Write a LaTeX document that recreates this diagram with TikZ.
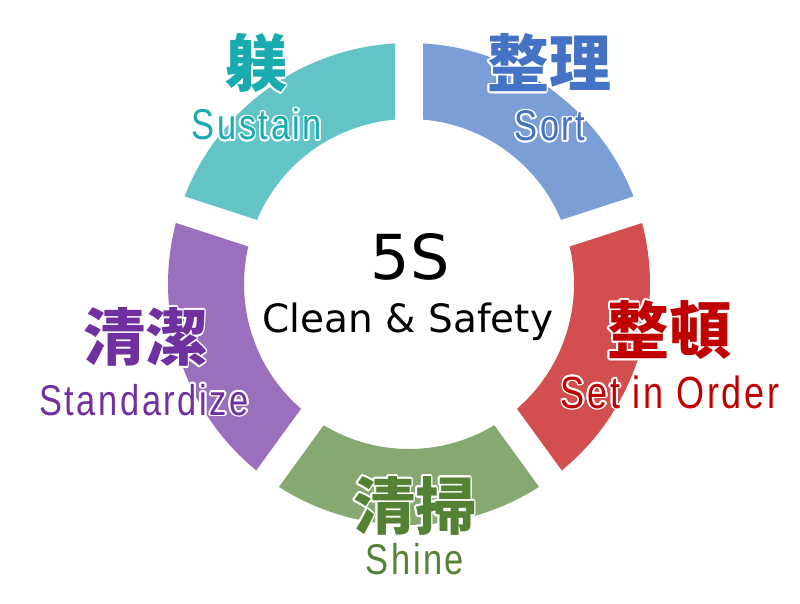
\documentclass[tikz,border=0pt]{standalone}
\usepackage{fontspec}
\setmainfont{DejaVu Sans}
\newfontfamily\cjk{Noto Sans CJK JP}
\newfontfamily\labf{Liberation Sans}[FakeStretch=0.8,LetterSpace=6]
\newfontfamily\cenf{DejaVu Sans}
\usetikzlibrary{calc}
\definecolor{tealseg}{HTML}{63C4C8}
\definecolor{tealtxt}{HTML}{1AABB0}
\definecolor{blueseg}{HTML}{7B9ED7}
\definecolor{bluetxt}{HTML}{4472C4}
\definecolor{redseg}{HTML}{D34E4F}
\definecolor{redtxt}{HTML}{C00000}
\definecolor{greenseg}{HTML}{86A971}
\definecolor{greentxt}{HTML}{548235}
\definecolor{purpseg}{HTML}{9A6FBE}
\definecolor{purptxt}{HTML}{7030A0}
\tikzset{
  kanji/.style={font=\cjk\bfseries\fontsize{62}{70}\selectfont, inner sep=0pt, anchor=center},
  latin/.style={font=\labf\fontsize{#1}{48}\selectfont, inner sep=0pt, anchor=base},
  latin/.default=43,
  centre/.style={font=\cenf\fontsize{#1}{#1}\selectfont, inner sep=0pt, anchor=base, text=black},
}
\newcommand{\outl}[4]{%
  \foreach \a in {0,30,...,330} {\node[#3, text=white] at ($(#2)+(\a:1.8)$) {#4};}
  \node[#3] (#1) at (#2) {#4};}
\newcommand{\ringseg}[3]{%
  \fill[#3] ($(C)+({#1+3.33}:241)$) arc[start angle={#1+3.33}, end angle={#2-3.33}, radius=241]
    -- ($(C)+({#2-4.87}:165)$) arc[start angle={#2-4.87}, end angle={#1+4.87}, radius=165] -- cycle;}
\begin{document}
\begin{tikzpicture}[x=1pt,y=1pt]
\useasboundingbox (0,0) rectangle (800,603);
\fill[white] (0,0) rectangle (800,603);
\coordinate (C) at (409,319);
% ring segments
\ringseg{18}{90}{blueseg}
\ringseg{90}{162}{tealseg}
\ringseg{162}{234}{purpseg}
\ringseg{234}{306}{greenseg}
\ringseg{306}{378}{redseg}
% centre
\node[centre=62] (fives) at (410,323) {5S};
\node[centre=39] (clean) at (408,270) {Clean \& Safety};
% labels
\coordinate (p1) at (256,540);
\coordinate (p2) at (257,463);
\coordinate (p3) at (549,540);
\coordinate (p4) at (550,462);
\coordinate (p5) at (669,273);
\coordinate (p6) at (670,195);
\coordinate (p7) at (415,97);
\coordinate (p8) at (415,29);
\coordinate (p9) at (145,266);
\coordinate (p10) at (144,188);
\outl{shitsuke}{p1}{kanji,text=tealtxt}{躾}
\outl{sustain}{p2}{latin,text=tealtxt}{Sustain}
\outl{seiri}{p3}{kanji,text=bluetxt}{整理}
\outl{sort}{p4}{latin,text=bluetxt}{Sort}
\outl{seiton}{p5}{kanji,text=redtxt}{整頓}
\outl{setinorder}{p6}{latin=45,text=redtxt}{Set in Order}
\outl{seiso}{p7}{kanji,text=greentxt}{清掃}
\outl{shine}{p8}{latin,text=greentxt}{Shine}
\outl{seiketsu}{p9}{kanji,text=purptxt}{清潔}
\outl{standardize}{p10}{latin,text=purptxt}{Standardize}
\end{tikzpicture}
\end{document}
